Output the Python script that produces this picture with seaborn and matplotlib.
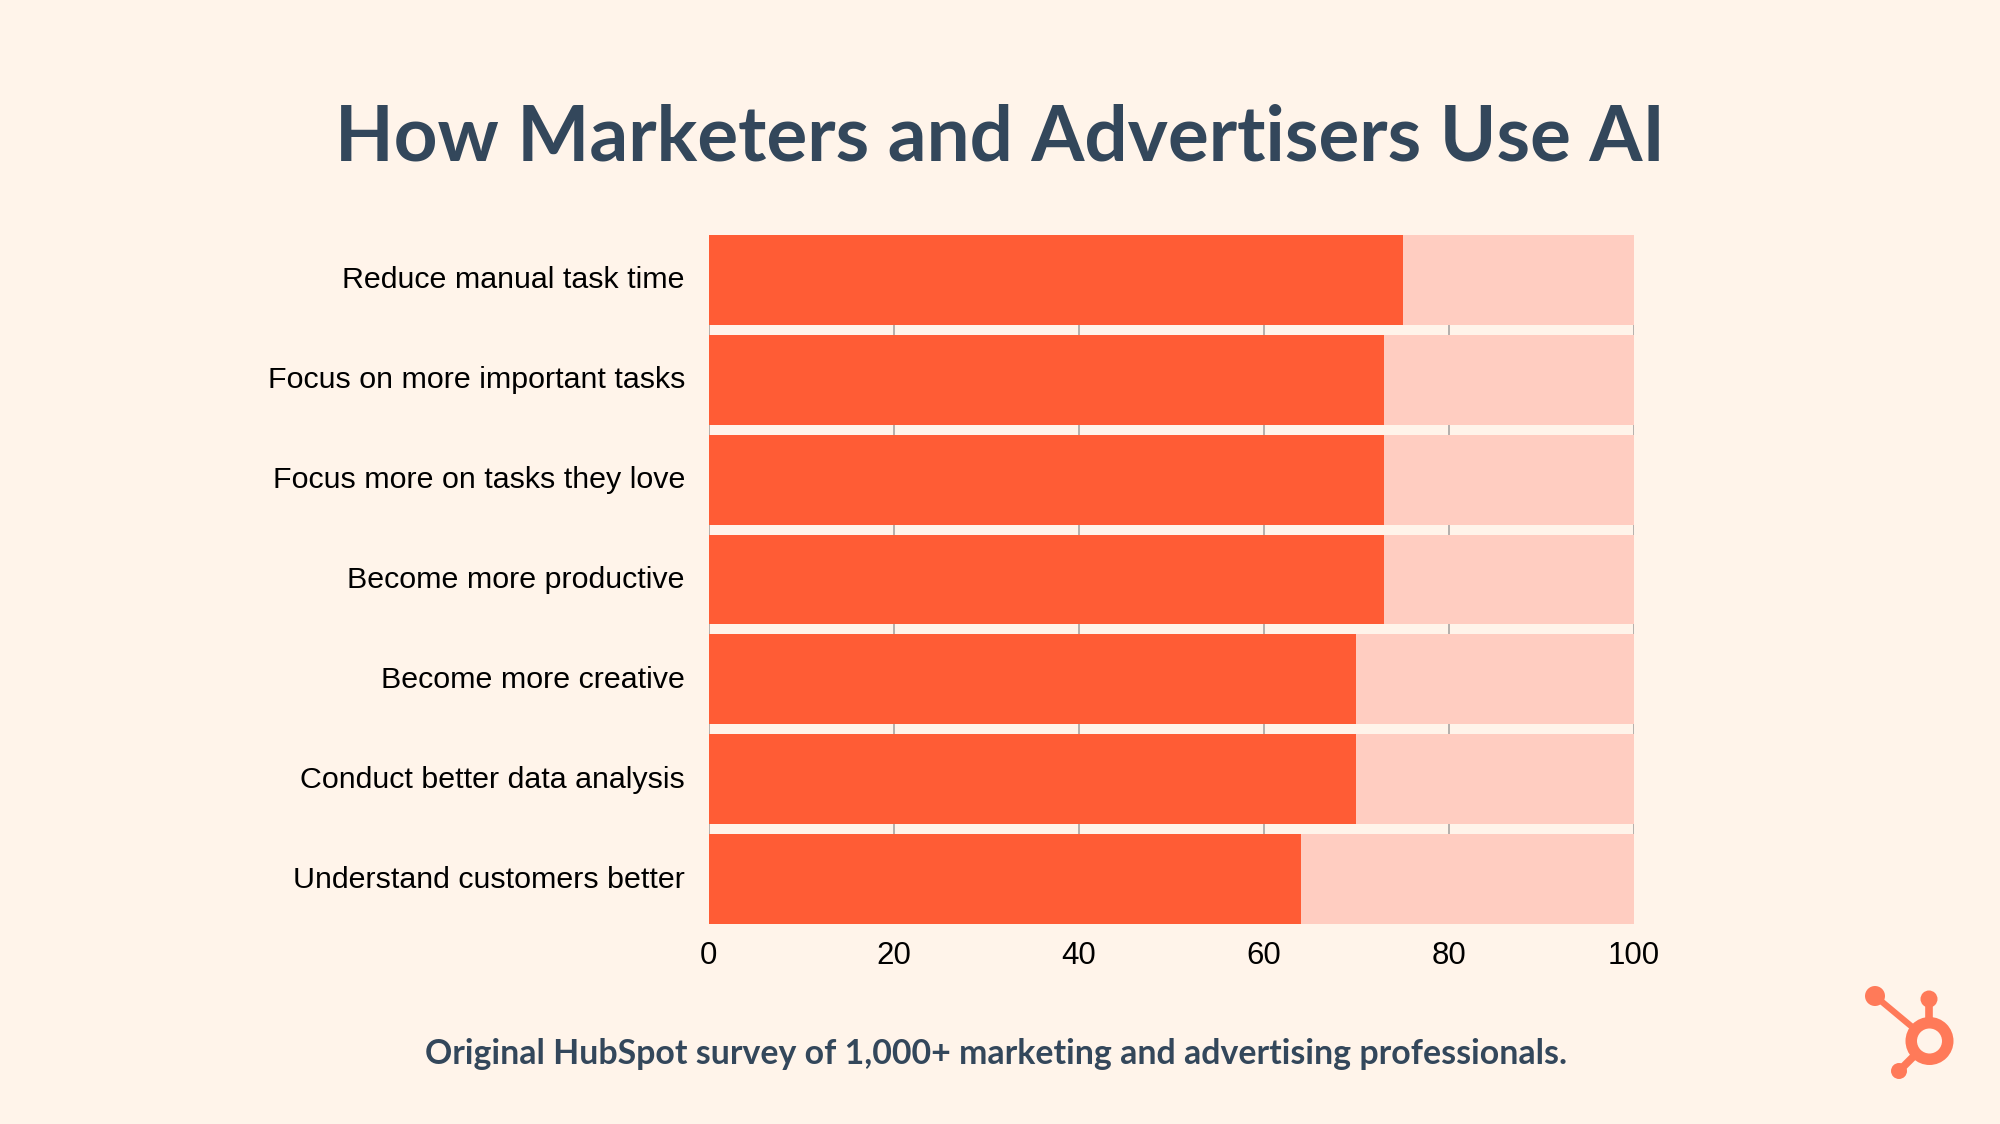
"""Survey chart: how marketers and advertisers use AI."""

import matplotlib.pyplot as plt
from matplotlib.patches import Circle
from matplotlib.lines import Line2D
from matplotlib.transforms import ScaledTranslation
import pandas as pd
import seaborn as sns

tasks = ['Reduce manual task time', 'Focus on more important tasks',
         'Focus more on tasks they love', 'Become more productive',
         'Become more creative', 'Conduct better data analysis',
         'Understand customers better']
shares = [75, 73, 73, 73, 70, 70, 64]
totals = [100, 100, 100, 100, 100, 100, 100]
x_ticks = [0, 20, 40, 60, 80, 100]

title = 'How Marketers and Advertisers Use AI'
footnote = 'Original HubSpot survey of 1,000+ marketing and advertising professionals.'

BACKGROUND = '#FFF4EA'
DARK_BAR = '#FF5C35'
LIGHT_BAR = '#FFCDC1'
SLATE = '#33475B'
LOGO = '#FF7A59'


def draw_logo(fig):
    """Draw the sprocket logo in figure pixels (y counted from the top)."""
    W, H = fig.get_size_inches() * fig.dpi
    def xy(px, py):
        return px / W, 1 - py / H
    tr = fig.dpi_scale_trans
    def circle(px, py, r, color):
        return Circle((px / fig.dpi, (H - py) / fig.dpi), r / fig.dpi, color=color, lw=0, transform=tr, zorder=3)

    for (x0, y0), (x1, y1), lw in [((1875, 996), (1929, 1041), 4.5),
                                   ((1929, 999), (1929, 1041), 5.5),
                                   ((1899, 1071), (1929, 1041), 5.5)]:
        fig.add_artist(Line2D(*zip(xy(x0, y0), xy(x1, y1)), color=LOGO, lw=lw,
                              transform=fig.transFigure, zorder=2))
    fig.add_artist(circle(1875, 996, 10, LOGO))
    fig.add_artist(circle(1929, 999, 8.5, LOGO))
    fig.add_artist(circle(1899, 1071, 8, LOGO))
    fig.add_artist(circle(1929.5, 1041, 24, LOGO))
    fig.add_artist(circle(1929.5, 1041, 12.5, BACKGROUND))


def plot_usage(save_path=None):
    """
    Draw the stacked looking bar chart and save it.

    Args:
        save_path: Optional path to save the image.
    """
    df = pd.DataFrame({'task': tasks, 'share': shares, 'total': totals})

    fig, ax = plt.subplots(figsize=(20, 11.24), dpi=100, facecolor=BACKGROUND)
    ax.set_position([708.5 / 2000, 1 - 924 / 1124, (1634 - 708.5) / 2000, (924 - 235) / 1124])
    ax.set_facecolor(BACKGROUND)

    sns.barplot(data=df, y='task', x='total', color=LIGHT_BAR, saturation=1, width=0.9, ax=ax, zorder=2)
    sns.barplot(data=df, y='task', x='share', color=DARK_BAR, saturation=1, width=0.9, ax=ax, zorder=3)

    ax.set_xlim(0, 100)
    ax.set_ylim(6.45, -0.45)
    ax.set_xticks(x_ticks)
    ax.set_xlabel('')
    ax.set_ylabel('')
    ax.grid(axis='x', color='#B4B0AC', lw=1.4, zorder=1)
    ax.set_axisbelow(True)
    for side in ['top', 'right', 'bottom', 'left']:
        ax.spines[side].set_visible(False)
    ax.tick_params(axis='both', length=0)
    ax.tick_params(axis='y', pad=17)
    ax.tick_params(axis='x', pad=12)
    nudge = ScaledTranslation(0, 2.5 / 100, fig.dpi_scale_trans)  # labels sit a little high
    for label in ax.get_yticklabels():
        label.set_family('Liberation Sans')
        label.set_fontsize(21.9)
        label.set_color('black')
        label.set_transform(label.get_transform() + nudge)
    for label in ax.get_xticklabels():
        label.set_family('Liberation Sans')
        label.set_fontsize(22.5)
        label.set_color('black')

    fig.text(0.5, 1 - 138.5 / 1124, title, ha='center', va='center', fontsize=55,
             family='Lato', weight='bold', color=SLATE)
    fig.text(0.498, 1 - 1054.5 / 1124, footnote, ha='center', va='center', fontsize=24.4,
             family='Lato', weight='bold', color=SLATE)
    draw_logo(fig)

    if save_path:
        plt.savefig(save_path, dpi=100, facecolor=BACKGROUND)


plot_usage('out.png')
